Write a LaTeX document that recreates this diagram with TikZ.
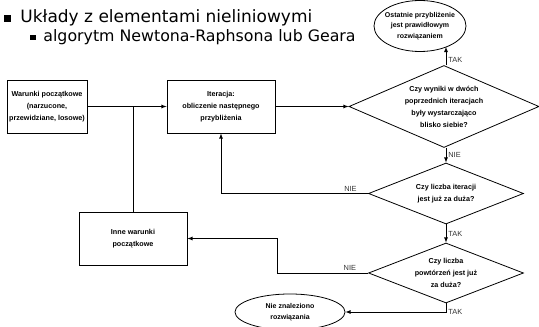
\documentclass[tikz,border=0pt]{standalone}
\usepackage{fontspec}
\setmainfont{Liberation Sans}
\newfontfamily\slidefont{DejaVu Sans}
\usetikzlibrary{shapes.geometric}

\begin{document}
\begin{tikzpicture}[x=1pt,y=1pt, line width=0.8pt, >=latex,
        box/.style={draw, align=center, minimum width=108, minimum height=53, inner sep=0pt,
            font=\fontsize{7.2}{12}\selectfont\bfseries},
        decision/.style={draw, diamond, align=center, inner sep=0pt,
            font=\fontsize{7.2}{12}\selectfont\bfseries},
        terminal/.style={draw, ellipse, align=center, inner sep=0pt,
            font=\fontsize{7}{10.5}\selectfont\bfseries},
        yesno/.style={font=\fontsize{7.4}{9}\selectfont, text=black!80, inner sep=2pt}]

        \useasboundingbox (0,0) rectangle (539,327);

        % Draw slide text
        \fill (4,305) rectangle (11,312);
        \node[anchor=base west, inner sep=0pt, font=\slidefont\fontsize{17}{20}\selectfont] (title) at (20,304) {Układy z elementami nieliniowymi};
        \fill (30,286.5) rectangle (35.5,292);
        \node[anchor=base west, inner sep=0pt, font=\slidefont\fontsize{15.8}{18}\selectfont] (subtitle) at (43,285) {algorytm Newtona-Raphsona lub Geara};

        % Draw blocks
        \node[box, minimum width=80] (start) at (47,220.5) {Warunki początkowe\\(narzucone,\\przewidziane, losowe)};
        \node[box] (iter) at (221,220.5) {Iteracja:\\obliczenie następnego\\przybliżenia};
        \node[box] (other) at (133,88.5) {Inne warunki\\początkowe};

        % Draw decisions
        \node[decision, shape aspect=2.3, minimum width=190, minimum height=82] (close) at (444,220.5) {Czy wyniki w dwóch\\poprzednich iteracjach\\były wystarczająco\\blisko siebie?};
        \node[decision, shape aspect=2.5, minimum width=155, minimum height=61] (iters) at (446,133.5) {Czy liczba iteracji\\jest już za duża?};
        \node[decision, shape aspect=2.5, minimum width=155, minimum height=60] (repeats) at (446,54) {Czy liczba\\powtórzeń jest już\\za duża?};

        % Draw terminals
        \node[terminal, inner xsep=-4pt, minimum width=92, minimum height=51] (found) at (420,301) {Ostatnie przybliżenie\\jest prawidłowym\\rozwiązaniem};
        \node[terminal, minimum width=110, minimum height=36] (failed) at (290,15) {Nie znaleziono\\rozwiązania};

        \coordinate (bend) at (277,54);

        % Draw connectors
        \draw[->] (start.east) -- (iter.west);
        \draw (other.north) -- (other.north |- start.east);
        \draw[->] (iter.east) -- (close.west);
        \draw[->] (iters.north |- close.north) -- node[yesno, right, pos=0.3] (yes1) {TAK} (iters.north |- found.-37);
        \draw[->] (iters.north |- close.south) -- node[yesno, right] (no1) {NIE} (iters.north);
        \draw[->] (iters.west) -| node[yesno, above, pos=0.06] (no2) {NIE} (iter.south);
        \draw[->] (iters.south) -- node[yesno, right] (yes2) {TAK} (repeats.north);
        \draw[->] (repeats.west) -- node[yesno, above, pos=0.2] (no3) {NIE} (bend) |- (other.east);
        \draw[->] (repeats.south) |- node[yesno, right, pos=0.5] (yes3) {TAK} (failed.east);
    \end{tikzpicture}
\end{document}
